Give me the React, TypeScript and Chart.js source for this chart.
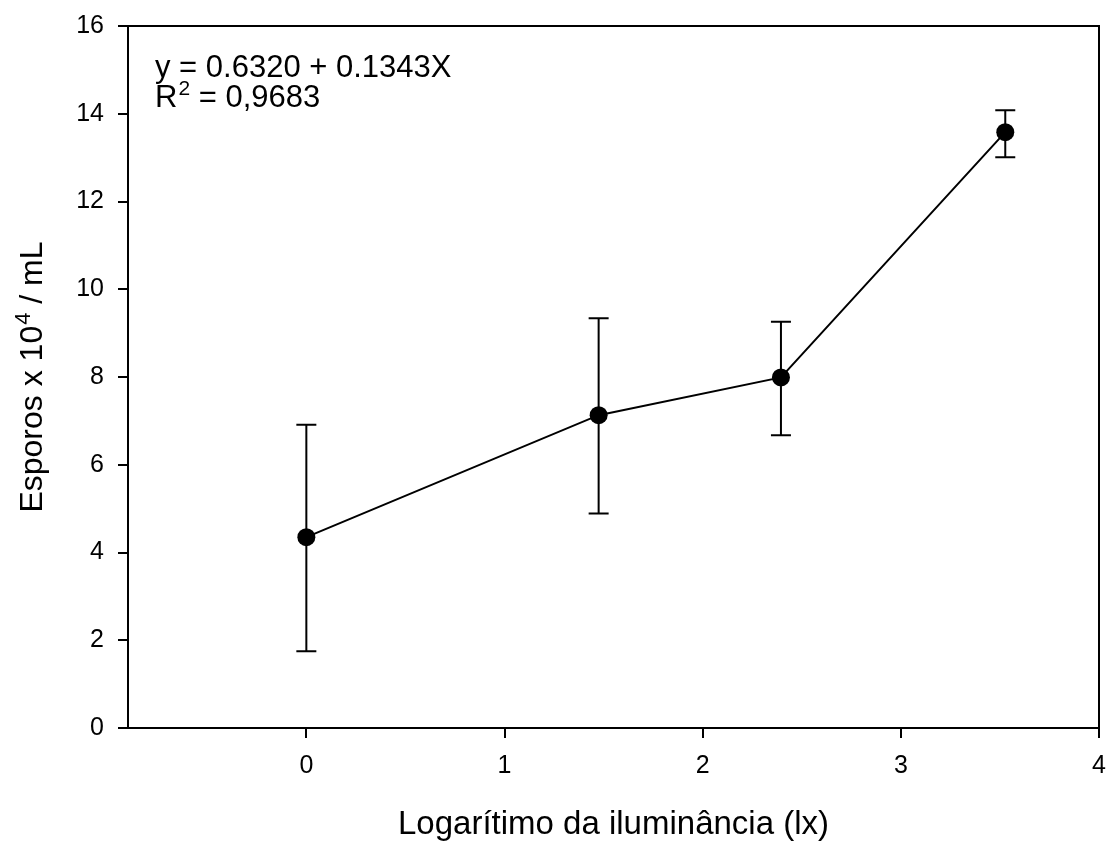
import React, { useEffect, useRef } from "react";
import { Chart, registerables } from "chart.js";

Chart.register(...registerables);

const xValues = [0, 1.475, 2.395, 3.527];
const yValues = [4.35, 7.13, 7.99, 13.58];
const errLow = [1.75, 4.89, 6.67, 13.01];
const errHigh = [6.91, 9.34, 9.26, 14.08];
const xTicks = [0, 1, 2, 3, 4];
const xTitle = "Logarítimo da iluminância (lx)";
const yTitleMain = "Esporos x 10";
const yTitleSup = "4";
const yTitleEnd = " / mL";
const eqLine1 = "y = 0.6320 + 0.1343X";
const eqLine2Pre = "R";
const eqLine2Sup = "2";
const eqLine2End = " = 0,9683";

const FONT = "'Liberation Sans', Arial, sans-serif";

const extrasPlugin = {
  id: "extras",
  afterDatasetsDraw(chart: any) {
    const ctx = chart.ctx;
    const xs = chart.scales.x;
    const ys = chart.scales.y;
    ctx.save();
    ctx.strokeStyle = "#000";
    ctx.lineWidth = 2;
    for (let i = 0; i < xValues.length; i++) {
      const px = xs.getPixelForValue(xValues[i]);
      const lo = ys.getPixelForValue(errLow[i]);
      const hi = ys.getPixelForValue(errHigh[i]);
      ctx.beginPath();
      ctx.moveTo(px, lo);
      ctx.lineTo(px, hi);
      ctx.moveTo(px - 10, lo);
      ctx.lineTo(px + 10, lo);
      ctx.moveTo(px - 10, hi);
      ctx.lineTo(px + 10, hi);
      ctx.stroke();
    }
    ctx.fillStyle = "#000";
    for (let i = 0; i < xValues.length; i++) {
      const px = xs.getPixelForValue(xValues[i]);
      const py = ys.getPixelForValue(yValues[i]);
      ctx.beginPath();
      ctx.arc(px, py, 9, 0, Math.PI * 2);
      ctx.fill();
    }
    ctx.restore();
  },
  afterDraw(chart: any) {
    const ctx = chart.ctx;
    const a = chart.chartArea;
    ctx.save();
    ctx.strokeStyle = "#000";
    ctx.lineWidth = 2;
    ctx.beginPath();
    ctx.moveTo(a.left, a.top);
    ctx.lineTo(a.right, a.top);
    ctx.lineTo(a.right, a.bottom);
    ctx.stroke();

    ctx.fillStyle = "#000";
    ctx.textBaseline = "alphabetic";
    ctx.textAlign = "left";
    const ex = a.left + 27;
    ctx.font = `31px ${FONT}`;
    ctx.fillText(eqLine1, ex, a.top + 51);
    const l2y = a.top + 81;
    ctx.fillText(eqLine2Pre, ex, l2y);
    const w = ctx.measureText(eqLine2Pre).width;
    ctx.font = `21px ${FONT}`;
    ctx.fillText(eqLine2Sup, ex + w + 1, l2y - 12);
    const ws = ctx.measureText(eqLine2Sup).width;
    ctx.font = `31px ${FONT}`;
    ctx.fillText(eqLine2End, ex + w + ws + 1, l2y);

    ctx.font = `32px ${FONT}`;
    const w1 = ctx.measureText(yTitleMain).width;
    const w3 = ctx.measureText(yTitleEnd).width;
    ctx.font = `22px ${FONT}`;
    const w2 = ctx.measureText(yTitleSup).width;
    const total = w1 + w2 + w3 + 1;
    const cy = (a.top + a.bottom) / 2;
    ctx.translate(42, cy);
    ctx.rotate(-Math.PI / 2);
    let sx = -total / 2;
    ctx.font = `32px ${FONT}`;
    ctx.fillText(yTitleMain, sx, 0);
    sx += w1 + 1;
    ctx.font = `22px ${FONT}`;
    ctx.fillText(yTitleSup, sx, -12);
    sx += w2;
    ctx.font = `32px ${FONT}`;
    ctx.fillText(yTitleEnd, sx, 0);
    ctx.restore();
  },
};

export default function App() {
  const ref = useRef<HTMLCanvasElement>(null);
  useEffect(() => {
    document.body.style.margin = "0";
    const canvas = ref.current!;
    const chart = new Chart(canvas, {
      type: "scatter",
      data: {
        datasets: [
          {
            data: xValues.map((x, i) => ({ x, y: yValues[i] })),
            showLine: true,
            borderColor: "#000",
            borderWidth: 2,
            backgroundColor: "#000",
            pointRadius: 0,
            pointHoverRadius: 0,
          },
        ],
      },
      options: {
        animation: false,
        responsive: false,
        devicePixelRatio: 1,
        events: [],
        layout: { padding: { top: 26, right: 11, left: 0, bottom: 0 } },
        plugins: {
          legend: { display: false },
          tooltip: { enabled: false },
        },
        scales: {
          x: {
            type: "linear",
            min: -0.9,
            max: 4,
            afterBuildTicks: (s: any) => {
              s.ticks = xTicks.map((v) => ({ value: v }));
            },
            afterFit: (s: any) => {
              s.height = 113;
              s.paddingLeft = 0;
              s.paddingRight = 0;
            },
            grid: {
              drawOnChartArea: false,
              drawTicks: true,
              tickLength: 10,
              color: "#000",
              lineWidth: 2,
            },
            border: { display: true, color: "#000", width: 2 },
            ticks: {
              color: "#000",
              font: { family: FONT, size: 25 },
              padding: 13,
              maxRotation: 0,
              callback: (v: any) => String(v),
            },
            title: {
              display: true,
              text: xTitle,
              color: "#000",
              font: { family: FONT, size: 33, lineHeight: 1 },
              padding: 0,
            },
          },
          y: {
            type: "linear",
            min: 0,
            max: 16,
            afterFit: (s: any) => {
              s.width = 128;
              s.paddingTop = 0;
              s.paddingBottom = 0;
            },
            grid: {
              drawOnChartArea: false,
              drawTicks: true,
              tickLength: 10,
              color: "#000",
              lineWidth: 2,
            },
            border: { display: true, color: "#000", width: 2 },
            ticks: {
              stepSize: 2,
              color: "#000",
              font: { family: FONT, size: 25 },
              padding: 14,
            },
          },
        },
      },
      plugins: [extrasPlugin],
    });
    return () => chart.destroy();
  }, []);
  return (
    <div style={{ width: 1110, height: 841 }}>
      <canvas ref={ref} width={1110} height={841} style={{ display: "block" }} />
    </div>
  );
}
